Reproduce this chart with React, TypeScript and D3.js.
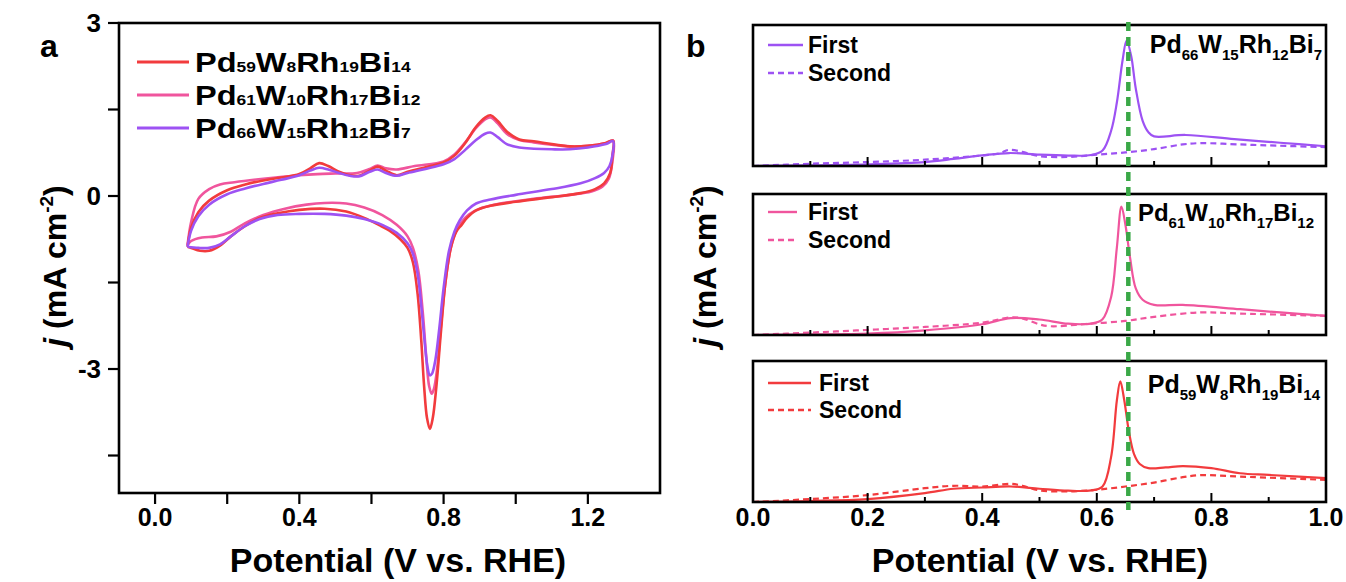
import React from "react";
import * as d3 from "d3";

const FONT = "'Liberation Sans', Arial, Helvetica, sans-serif";

// ---------- Panel a: cyclic voltammograms (V vs RHE, j mA cm^-2) ----------
const cvRed: [number, number][] = [
  [0.09, -0.88], [0.1, -0.55], [0.12, -0.28], [0.15, -0.08], [0.2, 0.1], [0.25, 0.2], [0.3, 0.27],
  [0.35, 0.32], [0.4, 0.38], [0.43, 0.48], [0.455, 0.57], [0.48, 0.52], [0.51, 0.42], [0.54, 0.36],
  [0.565, 0.35], [0.595, 0.44], [0.617, 0.51], [0.64, 0.44], [0.67, 0.36], [0.7, 0.42], [0.75, 0.5],
  [0.8, 0.58], [0.83, 0.7], [0.86, 0.92], [0.89, 1.2], [0.915, 1.36], [0.93, 1.4], [0.95, 1.3],
  [0.975, 1.12], [1.01, 0.98], [1.05, 0.95], [1.1, 0.9], [1.15, 0.86], [1.2, 0.87], [1.25, 0.92],
  [1.27, 0.96], [1.268, 0.7], [1.262, 0.4], [1.245, 0.22], [1.22, 0.12], [1.18, 0.05], [1.1, -0.02],
  [1.0, -0.1], [0.93, -0.17], [0.89, -0.25], [0.865, -0.38], [0.85, -0.5], [0.835, -0.62],
  [0.82, -0.9], [0.805, -1.5], [0.792, -2.4], [0.78, -3.3], [0.77, -3.85], [0.762, -4.04],
  [0.754, -3.85], [0.746, -3.3], [0.738, -2.5], [0.728, -1.7], [0.715, -1.15], [0.7, -0.9],
  [0.68, -0.75], [0.65, -0.6], [0.62, -0.5], [0.58, -0.38], [0.53, -0.27], [0.47, -0.22],
  [0.4, -0.24], [0.34, -0.3], [0.29, -0.38], [0.25, -0.52], [0.21, -0.7], [0.18, -0.86],
  [0.15, -0.95], [0.125, -0.95], [0.1, -0.9], [0.09, -0.88],
];

const cvPink: [number, number][] = [
  [0.09, -0.85], [0.1, -0.45], [0.12, -0.05], [0.15, 0.12], [0.18, 0.2], [0.22, 0.24], [0.3, 0.3],
  [0.4, 0.36], [0.45, 0.38], [0.5, 0.39], [0.56, 0.4], [0.595, 0.47], [0.617, 0.53], [0.64, 0.48],
  [0.67, 0.46], [0.72, 0.52], [0.8, 0.6], [0.83, 0.72], [0.86, 0.93], [0.89, 1.18], [0.915, 1.33],
  [0.93, 1.36], [0.95, 1.26], [0.975, 1.08], [1.01, 0.97], [1.05, 0.93], [1.1, 0.89], [1.15, 0.86],
  [1.2, 0.87], [1.25, 0.92], [1.27, 0.96], [1.268, 0.6], [1.258, 0.3], [1.24, 0.16], [1.21, 0.08],
  [1.15, 0.02], [1.05, -0.05], [0.95, -0.14], [0.9, -0.22], [0.87, -0.32], [0.85, -0.45],
  [0.835, -0.6], [0.82, -0.9], [0.805, -1.5], [0.792, -2.3], [0.782, -3.0], [0.773, -3.35],
  [0.767, -3.43], [0.76, -3.3], [0.752, -2.8], [0.742, -2.0], [0.73, -1.3], [0.715, -0.9],
  [0.7, -0.7], [0.67, -0.5], [0.63, -0.33], [0.58, -0.2], [0.53, -0.13], [0.47, -0.12],
  [0.42, -0.15], [0.36, -0.22], [0.3, -0.33], [0.25, -0.47], [0.21, -0.62], [0.17, -0.7],
  [0.13, -0.72], [0.1, -0.78], [0.09, -0.85],
];

const cvPurple: [number, number][] = [
  [0.09, -0.88], [0.1, -0.6], [0.12, -0.35], [0.15, -0.15], [0.2, 0.03], [0.25, 0.13], [0.3, 0.21],
  [0.35, 0.28], [0.4, 0.36], [0.43, 0.44], [0.455, 0.49], [0.48, 0.46], [0.51, 0.4], [0.54, 0.35],
  [0.565, 0.34], [0.595, 0.42], [0.617, 0.46], [0.64, 0.4], [0.67, 0.35], [0.7, 0.4], [0.75, 0.47],
  [0.8, 0.55], [0.83, 0.64], [0.86, 0.8], [0.89, 0.97], [0.915, 1.08], [0.93, 1.1], [0.95, 1.02],
  [0.975, 0.9], [1.01, 0.84], [1.05, 0.82], [1.1, 0.81], [1.15, 0.81], [1.2, 0.84], [1.25, 0.9],
  [1.27, 0.95], [1.268, 0.7], [1.26, 0.52], [1.245, 0.4], [1.22, 0.31], [1.18, 0.22], [1.1, 0.12],
  [1.0, 0.02], [0.93, -0.06], [0.89, -0.13], [0.865, -0.25], [0.845, -0.42], [0.83, -0.62],
  [0.815, -0.95], [0.8, -1.6], [0.788, -2.3], [0.777, -2.85], [0.768, -3.08], [0.762, -3.11],
  [0.755, -2.95], [0.747, -2.5], [0.738, -1.9], [0.728, -1.35], [0.715, -1.0], [0.7, -0.82],
  [0.67, -0.64], [0.63, -0.5], [0.58, -0.4], [0.53, -0.34], [0.47, -0.31], [0.4, -0.31],
  [0.34, -0.33], [0.29, -0.4], [0.25, -0.52], [0.21, -0.7], [0.18, -0.84], [0.15, -0.9],
  [0.12, -0.9], [0.09, -0.88],
];

const aXTicks = [0, 0.2, 0.4, 0.6, 0.8, 1.0, 1.2];
const aXLabels = ["0.0", "", "0.4", "", "0.8", "", "1.2"];
const aYTicks = [3, 1.5, 0, -1.5, -3, -4.5];
const aYLabels = ["3", "", "0", "", "-3", ""];

const labelRed: [string, string][] = [["Pd", "59"], ["W", "8"], ["Rh", "19"], ["Bi", "14"]];
const labelPink: [string, string][] = [["Pd", "61"], ["W", "10"], ["Rh", "17"], ["Bi", "12"]];
const labelPurple: [string, string][] = [["Pd", "66"], ["W", "15"], ["Rh", "12"], ["Bi", "7"]];

// ---------- Panel b: stripping curves (normalised current) ----------
const bPurpleFirstX = [0, 0.1, 0.2, 0.3, 0.35, 0.4, 0.447, 0.5, 0.55, 0.59, 0.61, 0.625, 0.635, 0.645, 0.652, 0.66, 0.668, 0.68, 0.69, 0.7, 0.755, 0.84, 0.92, 1.0];
const bPurpleFirstY = [0, 0.004, 0.012, 0.028, 0.05, 0.075, 0.092, 0.08, 0.074, 0.078, 0.11, 0.25, 0.45, 0.75, 0.89, 0.78, 0.55, 0.32, 0.24, 0.21, 0.22, 0.19, 0.165, 0.14];
const bPurpleSecondX = [0, 0.1, 0.2, 0.3, 0.4, 0.43, 0.447, 0.47, 0.5, 0.55, 0.6, 0.65, 0.7, 0.75, 0.78, 0.85, 0.9, 1.0];
const bPurpleSecondY = [0, 0.016, 0.028, 0.045, 0.075, 0.09, 0.115, 0.1, 0.07, 0.064, 0.08, 0.096, 0.12, 0.153, 0.162, 0.153, 0.146, 0.134];

const bPinkFirstX = [0, 0.1, 0.2, 0.3, 0.4, 0.45, 0.5, 0.55, 0.59, 0.61, 0.625, 0.635, 0.643, 0.65, 0.658, 0.668, 0.68, 0.7, 0.75, 0.85, 0.92, 1.0];
const bPinkFirstY = [0, 0.004, 0.01, 0.033, 0.076, 0.12, 0.11, 0.08, 0.081, 0.112, 0.27, 0.62, 0.91, 0.78, 0.55, 0.33, 0.25, 0.214, 0.214, 0.183, 0.16, 0.136];
const bPinkSecondX = [0, 0.1, 0.2, 0.3, 0.4, 0.45, 0.47, 0.5, 0.52, 0.58, 0.65, 0.7, 0.78, 0.85, 1.0];
const bPinkSecondY = [0, 0.017, 0.036, 0.057, 0.088, 0.125, 0.118, 0.075, 0.062, 0.078, 0.1, 0.129, 0.16, 0.152, 0.136];

const bRedFirstX = [0, 0.1, 0.2, 0.3, 0.35, 0.4, 0.45, 0.5, 0.55, 0.59, 0.61, 0.625, 0.635, 0.641, 0.648, 0.656, 0.665, 0.675, 0.69, 0.72, 0.75, 0.8, 0.85, 0.9, 1.0];
const bRedFirstY = [0, 0.007, 0.021, 0.063, 0.094, 0.103, 0.11, 0.094, 0.08, 0.082, 0.11, 0.32, 0.72, 0.855, 0.72, 0.5, 0.34, 0.27, 0.24, 0.245, 0.255, 0.24, 0.204, 0.192, 0.169];
const bRedSecondX = [0, 0.1, 0.2, 0.3, 0.35, 0.4, 0.45, 0.47, 0.5, 0.55, 0.6, 0.65, 0.7, 0.75, 0.78, 0.85, 1.0];
const bRedSecondY = [0, 0.021, 0.049, 0.098, 0.115, 0.11, 0.129, 0.115, 0.082, 0.075, 0.087, 0.11, 0.138, 0.176, 0.19, 0.18, 0.157];

const bXTicks = [0, 0.1, 0.2, 0.3, 0.4, 0.5, 0.6, 0.7, 0.8, 0.9, 1.0];
const bXLabels = ["0.0", "0.2", "0.4", "0.6", "0.8", "1.0"];
const bPeakMarker = 0.655;

const RED = "#f23b3d";
const PINK = "#f0559d";
const PURPLE = "#9d52f3";
const GREEN = "#3aa847";

function Formula(props: {
  parts: [string, string][];
  x: number;
  y: number;
  size: number;
  subSize: number;
  shift: number;
  anchor?: string;
  sx?: number;
}) {
  const { parts, x, y, size, subSize, shift, anchor, sx } = props;
  const spans: any[] = [];
  parts.forEach(([m, s], i) => {
    spans.push(
      <tspan key={"m" + i} dy={i === 0 ? 0 : -shift} fontSize={size}>
        {m}
      </tspan>
    );
    spans.push(
      <tspan key={"s" + i} dy={shift} fontSize={subSize}>
        {s}
      </tspan>
    );
  });
  return (
    <g transform={`translate(${x},${y}) scale(${sx || 1},1)`}>
      <text x={0} y={0} fontFamily={FONT} fontWeight="bold" textAnchor={anchor || "start"} fill="#000">
        {spans}
      </text>
    </g>
  );
}

function YTitle({ x, y }: { x: number; y: number }) {
  return (
    <text
      transform={`translate(${x},${y}) rotate(-90)`}
      textAnchor="middle"
      fontFamily={FONT}
      fontWeight="bold"
      fontSize={32}
    >
      <tspan fontStyle="italic">j</tspan>
      <tspan> (mA cm</tspan>
      <tspan fontSize={19} dy={-13}>-2</tspan>
      <tspan dy={13}>)</tspan>
    </text>
  );
}

export default function App() {
  // Panel a scales
  const ax = d3.scaleLinear().domain([-0.1, 1.4]).range([119, 660]);
  const ay = d3.scaleLinear().domain([-5.15, 3]).range([493, 23]);
  const cvLine = d3
    .line<[number, number]>()
    .x((d) => ax(d[0]))
    .y((d) => ay(d[1]))
    .curve(d3.curveCatmullRom.alpha(0.5));

  const cvSeries = [
    { data: cvPink, color: PINK },
    { data: cvRed, color: RED },
    { data: cvPurple, color: PURPLE },
  ];
  const legendA = [
    { parts: labelRed, color: RED, y: 62 },
    { parts: labelPink, color: PINK, y: 95 },
    { parts: labelPurple, color: PURPLE, y: 128 },
  ];

  // Panel b
  const bx = d3.scaleLinear().domain([0, 1]).range([753, 1326]);
  const panels = [
    {
      top: 25, bottom: 166, color: PURPLE,
      fx: bPurpleFirstX, fy: bPurpleFirstY, sx: bPurpleSecondX, sy: bPurpleSecondY,
      label: labelPurple, labelX: 1322, labelY: 53, labelSize: 25,
      leg: { x1: 768, x2: 803, tx: 808, y1: 45, y2: 73 },
    },
    {
      top: 194, bottom: 335, color: PINK,
      fx: bPinkFirstX, fy: bPinkFirstY, sx: bPinkSecondX, sy: bPinkSecondY,
      label: labelPink, labelX: 1314, labelY: 221, labelSize: 24,
      leg: { x1: 768, x2: 797, tx: 808, y1: 212, y2: 240 },
    },
    {
      top: 361, bottom: 502, color: RED,
      fx: bRedFirstX, fy: bRedFirstY, sx: bRedSecondX, sy: bRedSecondY,
      label: labelRed, labelX: 1320, labelY: 393, labelSize: 25,
      leg: { x1: 768, x2: 811, tx: 819, y1: 383, y2: 410 },
    },
  ];

  return (
    <svg
      width={1346}
      height={582}
      style={{ position: "absolute", left: 0, top: 0, background: "#fff" }}
      fontFamily={FONT}
    >
      <rect x={0} y={0} width={1346} height={582} fill="#fff" />

      {/* ---------------- Panel a ---------------- */}
      <text x={40} y={57} fontSize={32} fontWeight="bold">a</text>
      {cvSeries.map((s, i) => (
        <path key={i} d={cvLine(s.data) || ""} fill="none" stroke={s.color} strokeWidth={2.6} strokeLinejoin="round" />
      ))}
      <rect x={119} y={23} width={541} height={470} fill="none" stroke="#000" strokeWidth={2.6} />
      {aXTicks.map((t, i) => (
        <g key={"axt" + i}>
          <line x1={ax(t)} x2={ax(t)} y1={493} y2={504} stroke="#000" strokeWidth={2.2} />
          {aXLabels[i] && (
            <text x={ax(t)} y={526} textAnchor="middle" fontSize={25} fontWeight="bold">
              {aXLabels[i]}
            </text>
          )}
        </g>
      ))}
      {aYTicks.map((t, i) => (
        <g key={"ayt" + i}>
          <line x1={108} x2={119} y1={ay(t)} y2={ay(t)} stroke="#000" strokeWidth={2.2} />
          {aYLabels[i] && (
            <text x={101} y={ay(t)} dy="0.36em" textAnchor="end" fontSize={26} fontWeight="bold">
              {aYLabels[i]}
            </text>
          )}
        </g>
      ))}
      {legendA.map((l, i) => (
        <g key={"lga" + i}>
          <line x1={137} x2={189} y1={l.y} y2={l.y} stroke={l.color} strokeWidth={3} />
          <Formula parts={l.parts} x={195} y={l.y + 10} size={28} subSize={15} shift={0} sx={1.16} />
        </g>
      ))}
      <YTitle x={66} y={266} />
      <text x={398} y={572} textAnchor="middle" fontSize={34} fontWeight="bold">
        Potential (V vs. RHE)
      </text>

      {/* ---------------- Panel b ---------------- */}
      <text x={686} y={57} fontSize={32} fontWeight="bold">b</text>
      {panels.map((p, i) => {
        const by = d3.scaleLinear().domain([0, 1]).range([p.bottom, p.top]);
        const ln = d3
          .line<[number, number]>()
          .x((d) => bx(d[0]))
          .y((d) => by(d[1]))
          .curve(d3.curveCatmullRom.alpha(0.5));
        const first = d3.zip(p.fx, p.fy) as [number, number][];
        const second = d3.zip(p.sx, p.sy) as [number, number][];
        return (
          <g key={"pb" + i}>
            <path d={ln(second) || ""} fill="none" stroke={p.color} strokeWidth={2.2} strokeDasharray="6,4" />
            <path d={ln(first) || ""} fill="none" stroke={p.color} strokeWidth={2.2} />
            <rect x={753} y={p.top} width={573} height={p.bottom - p.top} fill="none" stroke="#000" strokeWidth={2.6} />
            {bXTicks.map((t, k) => (
              <line
                key={"bt" + k}
                x1={bx(t)}
                x2={bx(t)}
                y1={p.bottom}
                y2={p.bottom - (k % 2 === 0 ? 9 : 5)}
                stroke="#000"
                strokeWidth={2}
              />
            ))}
            <line x1={p.leg.x1} x2={p.leg.x2} y1={p.leg.y1} y2={p.leg.y1} stroke={p.color} strokeWidth={2.4} />
            <line
              x1={p.leg.x1}
              x2={p.leg.x2}
              y1={p.leg.y2}
              y2={p.leg.y2}
              stroke={p.color}
              strokeWidth={2.4}
              strokeDasharray="6,4"
            />
            <text x={p.leg.tx} y={p.leg.y1 + 8} fontSize={23} fontWeight="bold">First</text>
            <text x={p.leg.tx} y={p.leg.y2 + 8} fontSize={23} fontWeight="bold">Second</text>
            <Formula parts={p.label} x={p.labelX} y={p.labelY} size={p.labelSize} subSize={15} shift={7} anchor="end" />
          </g>
        );
      })}
      <line
        x1={bx(bPeakMarker)}
        x2={bx(bPeakMarker)}
        y1={22}
        y2={510}
        stroke={GREEN}
        strokeWidth={4.5}
        strokeDasharray="9,6"
      />
      {bXTicks.filter((_, k) => k % 2 === 0).map((t, k) => (
        <text key={"bxl" + k} x={bx(t)} y={526} textAnchor="middle" fontSize={25} fontWeight="bold">
          {bXLabels[k]}
        </text>
      ))}
      <YTitle x={716} y={266} />
      <text x={1040} y={572} textAnchor="middle" fontSize={34} fontWeight="bold">
        Potential (V vs. RHE)
      </text>
    </svg>
  );
}
